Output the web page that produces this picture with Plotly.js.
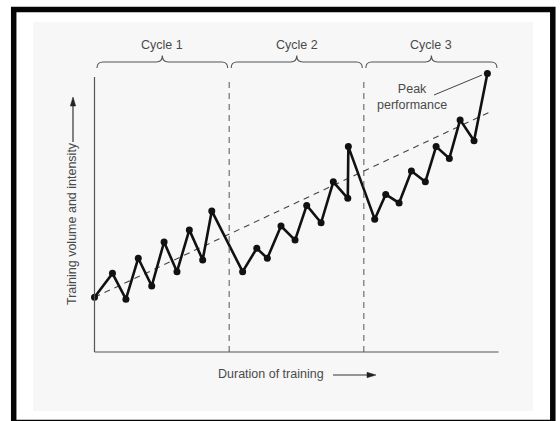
<!DOCTYPE html>
<html>
<head>
<meta charset="utf-8">
<script src="https://cdn.plot.ly/plotly-3.0.1.min.js"></script>
<style>html,body{margin:0;padding:0;background:#fff;}#chart{width:560px;height:421px;}</style>
</head>
<body>
<div id="chart"></div>
<script>
// Duration of training (weeks) and training load (relative units)
const weeks = [0, 1.6, 2.8, 3.9, 5.1, 6.2, 7.35, 8.45, 9.64, 10.45,
               13.2, 14.46, 15.4, 16.62, 17.87, 18.91, 20.19, 21.28, 22.57, 22.62,
               24.97, 25.95, 27.14, 28.24, 29.48, 30.44, 31.62, 32.58, 33.82, 35.01];
const load = [19.9, 28.6, 19.2, 34.1, 24.0, 40.0, 29.2, 44.4, 33.5, 51.3,
              29.2, 37.7, 34.1, 45.8, 40.7, 53.3, 47.0, 61.9, 55.9, 74.7,
              48.3, 57.3, 54.2, 65.8, 61.9, 74.7, 70.4, 84.4, 76.8, 101.3];
const trendX = [0, 35.4];
const trendY = [19.9, 87.6];
const cycleLabels = ['Cycle 1', 'Cycle 2', 'Cycle 3'];
const cycleStart = [0, 12, 24];
const cycleEnd = [12, 24, 36];
const xTitle = 'Duration of training';
const yTitle = 'Training volume and intensity';
const peakLabel = 'Peak<br>performance';

// pixel helpers for decorations (paper coords)
const W = 560, H = 421;
const PX = v => v / W;
const PY = v => 1 - v / H;
// data scale: 0 week at px 94.5, 11.222 px per week; 0 at py 352, 2.75 px per unit
const X0 = 94.5, SX = 404 / 36, Y0 = 352, SY = 2.75;
const toPx = w => X0 + w * SX;

const inkText = '#4a4a4a';
const shapes = [];
const annotations = [];

// outer white + inner grey panel + black frame
shapes.push({type:'rect', xref:'paper', yref:'paper', x0:PX(33), x1:PX(533), y0:PY(411), y1:PY(22),
  fillcolor:'#f7f7f7', line:{width:0}, layer:'below'});
shapes.push({type:'rect', xref:'paper', yref:'paper', x0:PX(13.7), x1:PX(552.8), y0:PY(422.5), y1:PY(9.6),
  fillcolor:'rgba(0,0,0,0)', line:{color:'#050505', width:5.5}, layer:'above'});

// axes
shapes.push({type:'line', xref:'x', yref:'y', x0:0, x1:0, y0:0, y1:100, line:{color:'#555', width:1.2}});
shapes.push({type:'line', xref:'x', yref:'y', x0:0, x1:cycleEnd[2], y0:0, y1:0, line:{color:'#555', width:1.2}});

// cycle dividers
for (let i = 1; i < cycleStart.length; i++) {
  shapes.push({type:'line', xref:'x', yref:'y', x0:cycleStart[i], x1:cycleStart[i], y0:0, y1:99,
    line:{color:'#555', width:1, dash:'6px,5px'}});
}

// braces + labels
for (let i = 0; i < cycleLabels.length; i++) {
  const a = toPx(cycleStart[i]) + (i === 0 ? 2.5 : 2), b = toPx(cycleEnd[i]) - 1.5;
  const m = (a + b) / 2;
  const yl = 62, ye = 68, yt = 55.5, r = 6;
  const p = (x, y) => PX(x).toFixed(5) + ',' + PY(y).toFixed(5);
  const path = 'M' + p(a, ye) + ' Q' + p(a, yl) + ' ' + p(a + r, yl) +
    ' L' + p(m - r, yl) + ' Q' + p(m, yl) + ' ' + p(m, yt) +
    ' Q' + p(m, yl) + ' ' + p(m + r, yl) +
    ' L' + p(b - r, yl) + ' Q' + p(b, yl) + ' ' + p(b, ye);
  shapes.push({type:'path', xref:'paper', yref:'paper', path:path, line:{color:'#555', width:1.1}});
  annotations.push({xref:'paper', yref:'paper', x:PX(m), y:PY(45), text:cycleLabels[i], showarrow:false,
    xanchor:'center', yanchor:'middle', font:{family:'Liberation Sans, Arial, sans-serif', size:12.5, color:inkText}});
}

// peak performance label + leader
annotations.push({xref:'paper', yref:'paper', x:PX(412), y:PY(97), text:peakLabel, showarrow:false,
  xanchor:'center', yanchor:'middle', align:'center',
  font:{family:'Liberation Sans, Arial, sans-serif', size:12.5, color:inkText}});
shapes.push({type:'line', xref:'paper', yref:'paper', x0:PX(434), y0:PY(95), x1:PX(482), y1:PY(75),
  line:{color:'#444', width:1}});

// axis titles with arrows
annotations.push({xref:'paper', yref:'paper', x:PX(271), y:PY(374), text:xTitle, showarrow:false,
  xanchor:'center', yanchor:'middle', font:{family:'Liberation Sans, Arial, sans-serif', size:12.5, color:inkText}});
shapes.push({type:'line', xref:'paper', yref:'paper', x0:PX(333), y0:PY(375), x1:PX(369), y1:PY(375), line:{color:'#333', width:1.2}});
shapes.push({type:'path', xref:'paper', yref:'paper',
  path:'M'+PX(376)+','+PY(375)+' L'+PX(367)+','+PY(372.3)+' L'+PX(367)+','+PY(377.7)+' Z',
  fillcolor:'#222', line:{color:'#222', width:0.5}});

annotations.push({xref:'paper', yref:'paper', x:PX(72), y:PY(224), text:yTitle, showarrow:false, textangle:-90,
  xanchor:'center', yanchor:'middle', font:{family:'Liberation Sans, Arial, sans-serif', size:12.5, color:inkText}});
shapes.push({type:'line', xref:'paper', yref:'paper', x0:PX(73), y0:PY(142), x1:PX(73), y1:PY(105), line:{color:'#333', width:1.2}});
shapes.push({type:'path', xref:'paper', yref:'paper',
  path:'M'+PX(73)+','+PY(97)+' L'+PX(70.3)+','+PY(106)+' L'+PX(75.7)+','+PY(106)+' Z',
  fillcolor:'#222', line:{color:'#222', width:0.5}});

const traces = [
  {x: trendX, y: trendY, mode:'lines', line:{color:'#444', width:1.1, dash:'6px,5px'}, hoverinfo:'skip'},
  {x: weeks, y: load, mode:'lines+markers', line:{color:'#111', width:2.6},
   marker:{color:'#111', size:7}, hoverinfo:'skip'}
];

const layout = {
  width: W, height: H, autosize:false,
  margin:{l:0, r:0, t:0, b:0, pad:0},
  paper_bgcolor:'#ffffff', plot_bgcolor:'rgba(0,0,0,0)',
  showlegend:false,
  xaxis:{range:[-X0 / SX, (W - X0) / SX], visible:false, fixedrange:true},
  yaxis:{range:[-(H - Y0) / SY, Y0 / SY], visible:false, fixedrange:true},
  shapes: shapes,
  annotations: annotations
};

Plotly.newPlot('chart', traces, layout, {staticPlot:true, displayModeBar:false});
</script>
</body>
</html>
